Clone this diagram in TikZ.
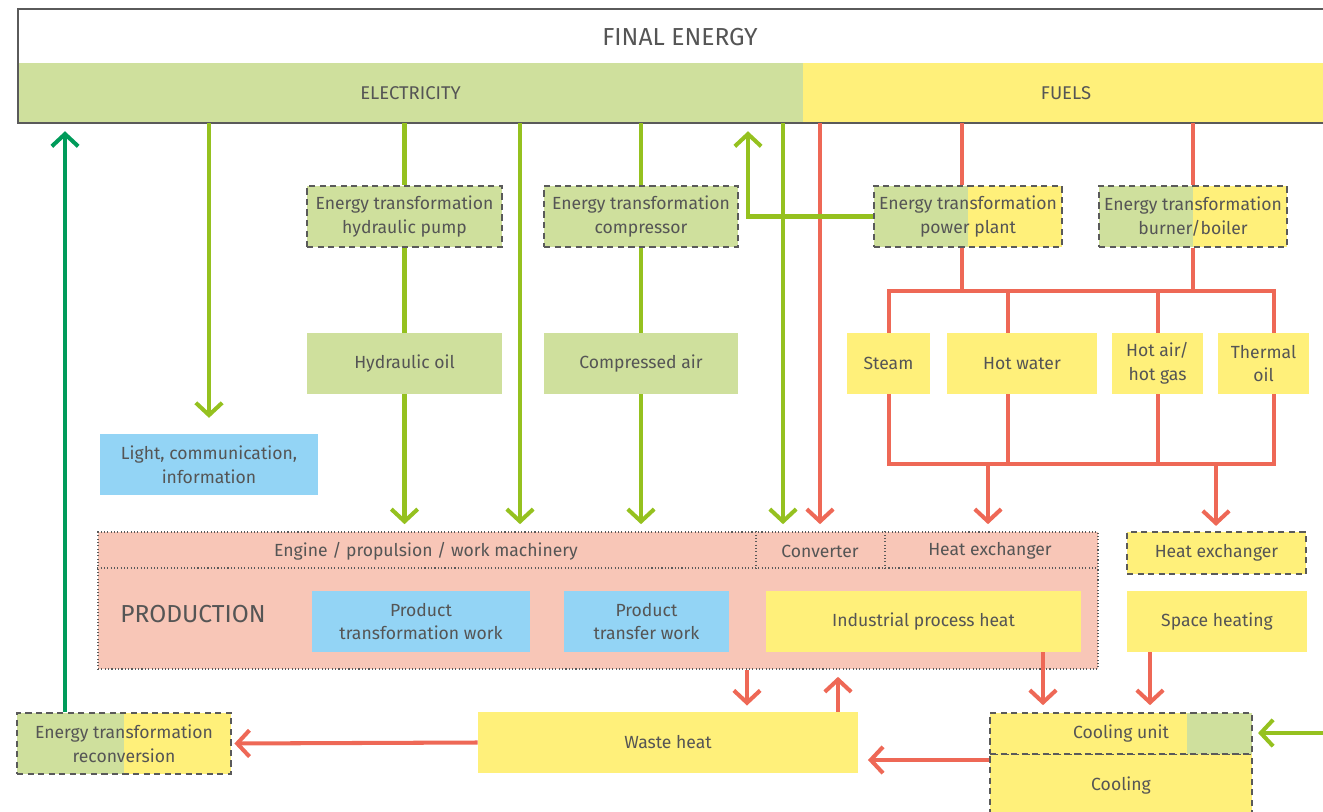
\documentclass[tikz,border=0pt]{standalone}
\usepackage{fontspec}
\setmainfont{Fira Sans}
\usepackage{xcolor}
\usetikzlibrary{arrows.meta}

\definecolor{elecgreen}{HTML}{CFE09D}
\definecolor{fuelyellow}{HTML}{FFF07A}
\definecolor{prodsalmon}{HTML}{F8C6B7}
\definecolor{infoblue}{HTML}{93D4F5}
\definecolor{flowred}{HTML}{EE6856}
\definecolor{flowgreen}{HTML}{95C11F}
\definecolor{backgreen}{HTML}{009B5A}
\definecolor{framegray}{HTML}{5A5A5A}
\definecolor{txtgray}{HTML}{555555}

\tikzset{
  txt/.style={text=txtgray, font=\fontsize{10}{13.6}\selectfont, align=center, inner sep=0pt},
  box/.style={txt, minimum height=1.22cm},
  gbox/.style={box, fill=elecgreen},
  ybox/.style={box, fill=fuelyellow},
  bbox/.style={box, fill=infoblue},
  dashbox/.style={draw=framegray, line width=0.9pt, dash pattern=on 3.5pt off 2.5pt},
  halfbox/.style={box, dashbox, fill=fuelyellow,
    path picture={\fill[elecgreen] (path picture bounding box.south west) rectangle (path picture bounding box.north);}},
  dotline/.style={draw=framegray, line width=0.9pt, dash pattern=on 0.6pt off 1.3pt},
  gline/.style={draw=flowgreen, line width=2.3pt},
  rline/.style={draw=flowred, line width=2.3pt},
  dgline/.style={draw=backgreen, line width=2.3pt},
  barb/.style={-{Straight Barb[length=7pt,width=15pt]}}
}

\begin{document}
\begin{tikzpicture}[x=0.02cm, y=-0.02cm, line join=miter]
  \useasboundingbox (0,0) rectangle (1323,812);

  % Verteiler Waerme (hinter den Kaesten)
  \draw[rline] (889,291) rectangle (1274,464);
  \draw[rline] (1008,291) -- (1008,464);
  \draw[rline] (1158,291) -- (1158,464);

  % Endenergie
  \node[txt, fill=elecgreen, minimum width=15.7cm, minimum height=1.2cm,
        font=\fontsize{10.5}{13}\selectfont] (elec) at (410.5,93) {ELECTRICITY};
  \node[txt, fill=fuelyellow, minimum width=10.52cm, minimum height=1.2cm,
        font=\fontsize{10.5}{13}\selectfont] (fuels) at (1066,93) {FUELS};
  \node[txt, font=\fontsize{14}{16}\selectfont] (final) at (680,37) {FINAL ENERGY};
  \draw[framegray, line width=1.2pt] (18,9) rectangle (1345,123);

  % Umwandlung
  \node[gbox, dashbox, minimum width=3.9cm] (pump) at (404.5,216.5) {Energy transformation\\hydraulic pump};
  \node[gbox, dashbox, minimum width=3.88cm] (comp) at (641,216.5) {Energy transformation\\compressor};
  \node[halfbox, minimum width=3.76cm] (plant) at (968,216.5) {Energy transformation\\power plant};
  \node[halfbox, minimum width=3.76cm] (burner) at (1193,216.5) {Energy transformation\\burner/boiler};

  % Energietraeger
  \node[gbox, minimum width=3.9cm] (oil) at (404.5,363.5) {Hydraulic oil};
  \node[gbox, minimum width=3.88cm] (air) at (641,363.5) {Compressed air};
  \node[ybox, minimum width=1.66cm] (steam) at (888.5,363.5) {Steam};
  \node[ybox, minimum width=3cm] (water) at (1022,363.5) {Hot water};
  \node[ybox, minimum width=1.82cm] (hotair) at (1157.5,363.5) {Hot air/\\hot gas};
  \node[ybox, minimum width=1.82cm] (thermal) at (1263.5,363.5) {Thermal\\oil};
  \node[bbox, minimum width=4.36cm] (light) at (209,464.5) {Light, communication,\\information};

  % Produktion
  \node[dotline, fill=prodsalmon, minimum width=20cm, minimum height=2.74cm, inner sep=0pt] (prod) at (598,600.5) {};
  \draw[dotline] (prod.west |- 0,568) -- (prod.east |- 0,568);
  \draw[dotline] (756,0 |- prod.north) -- (756,568);
  \draw[dotline] (885,0 |- prod.north) -- (885,568);
  \node[txt] (engine) at (426,551) {Engine / propulsion / work machinery};
  \node[txt] (conv) at (820,551) {Converter};
  \node[txt] (hexa) at (990,551) {Heat exchanger};
  \node[txt, font=\fontsize{14}{16}\selectfont] (prodlabel) at (193,614) {PRODUCTION};
  \node[bbox, minimum width=4.36cm] (ptw) at (421,621.5) {Product\\transformation work};
  \node[bbox, minimum width=3.3cm] (ptr) at (646.5,621.5) {Product\\transfer work};
  \node[ybox, minimum width=6.3cm] (iph) at (923.5,621.5) {Industrial process heat};

  \node[ybox, dashbox, minimum width=3.58cm, minimum height=0.84cm] (hexb) at (1216.5,553) {Heat exchanger};
  \node[ybox, minimum width=3.6cm] (space) at (1217,621.5) {Space heating};

  % Abwaerme
  \node[halfbox, minimum width=4.28cm] (reconv) at (124,743.5) {Energy transformation\\reconversion};
  \node[ybox, minimum width=7.6cm] (waste) at (668,742.5) {Waste heat};
  \node[ybox, dashbox, minimum width=5.24cm, minimum height=1.28cm] (cooling) at (1121,786) {Cooling};
  \node[ybox, dashbox, minimum width=5.24cm, minimum height=0.82cm,
        path picture={\fill[elecgreen] ([xshift=-1.3cm]path picture bounding box.south east) rectangle (path picture bounding box.north east);}]
        (coolunit) at (1121,733.5) {Cooling unit};
  \coordinate (gin) at (1330,733);

  % Stromfluesse
  \draw[gline, barb, shorten >=9pt] (light.north |- elec.south) -- (light.north);
  \draw[gline] (pump.north |- elec.south) -- (pump.north);
  \draw[gline] (pump.south) -- (oil.north);
  \draw[gline, barb, shorten >=4pt] (oil.south) -- (oil.south |- prod.north);
  \draw[gline, barb, shorten >=4pt] (520,0 |- elec.south) -- (520,0 |- prod.north);
  \draw[gline] (comp.north |- elec.south) -- (comp.north);
  \draw[gline] (comp.south) -- (air.north);
  \draw[gline, barb, shorten >=4pt] (air.south) -- (air.south |- prod.north);
  \draw[gline, barb, shorten >=4pt] (783,0 |- elec.south) -- (783,0 |- prod.north);

  % Brennstoffe
  \draw[rline, barb, shorten >=4pt] (820,0 |- fuels.south) -- (820,0 |- prod.north);
  \draw[rline] (962,0 |- fuels.south) -- (962,0 |- plant.north);
  \draw[rline] (burner.north |- fuels.south) -- (burner.north);
  \draw[rline] (962,0 |- plant.south) -- (962,291);
  \draw[rline] (burner.south) -- (burner.south |- 0,291);
  \draw[rline, barb, shorten >=4pt] (988,464) -- (988,0 |- prod.north);
  \draw[rline, barb, shorten >=3pt] (1216,464) -- (1216,0 |- hexb.north);
  \draw[gline, barb, shorten >=4.5pt] (plant.west) -| (748,0 |- elec.south);

  % Abwaerme und Kuehlung
  \draw[rline, barb, shorten >=3.5pt] (747,0 |- prod.south) -- (747,0 |- waste.north);
  \draw[rline, barb, shorten >=4pt] (838,0 |- waste.north) -- (838,0 |- prod.south);
  \draw[rline, barb, shorten >=4pt] (1043,0 |- iph.south) -- (1043,0 |- coolunit.north);
  \draw[rline, barb, shorten >=4pt] (1150,0 |- space.south) -- (1150,0 |- coolunit.north);
  \draw[rline, barb, shorten >=1.5pt] (waste.west) -- (reconv.east);
  \draw[rline, barb, shorten >=5.5pt] (cooling.west |- 0,760) -- (waste.east |- 0,760);
  \draw[gline, barb, shorten >=3pt] (gin) -- (coolunit.east |- gin);
  \draw[dgline, barb, shorten >=4.5pt] (65,0 |- reconv.north) -- (65,0 |- elec.south);
\end{tikzpicture}
\end{document}
